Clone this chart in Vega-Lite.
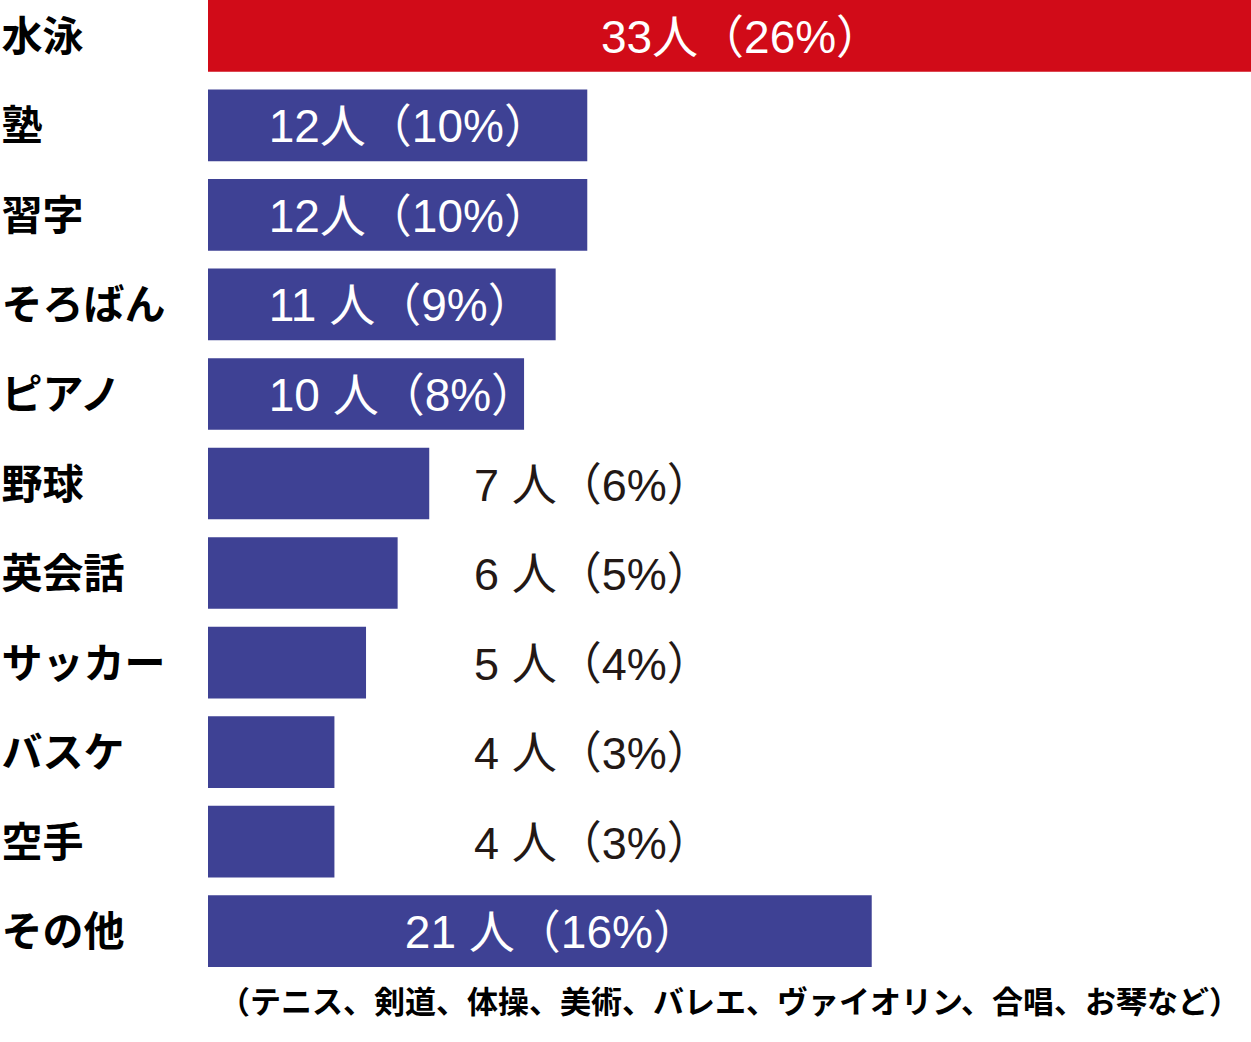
{
  "$schema": "https://vega.github.io/schema/vega-lite/v6.json",
  "autosize": {"type": "none"},
  "width": 1043,
  "height": 967,
  "padding": {"left": 208, "top": 0, "right": 0, "bottom": 75},
  "background": "white",
  "config": {"view": {"stroke": null}},
  "title": {
    "text": "（テニス、剣道、体操、美術、バレエ、ヴァイオリン、合唱、お琴など）",
    "orient": "bottom",
    "anchor": "middle",
    "offset": 22,
    "font": "Noto Sans CJK JP",
    "fontSize": 31,
    "fontWeight": "bold",
    "color": "#000000"
  },
  "data": {
    "values": [
      {"name": "水泳", "n": 33, "label": "33人（26%）"},
      {"name": "塾", "n": 12, "label": "12人（10%）"},
      {"name": "習字", "n": 12, "label": "12人（10%）"},
      {"name": "そろばん", "n": 11, "label": "11 人（9%）"},
      {"name": "ピアノ", "n": 10, "label": "10 人（8%）"},
      {"name": "野球", "n": 7, "label": "7 人（6%）"},
      {"name": "英会話", "n": 6, "label": "6 人（5%）"},
      {"name": "サッカー", "n": 5, "label": "5 人（4%）"},
      {"name": "バスケ", "n": 4, "label": "4 人（3%）"},
      {"name": "空手", "n": 4, "label": "4 人（3%）"},
      {"name": "その他", "n": 21, "label": "21 人（16%）"}
    ]
  },
  "encoding": {
    "y": {
      "field": "name",
      "type": "nominal",
      "sort": null,
      "scale": {"paddingInner": 0.2, "paddingOuter": 0},
      "axis": {
        "title": null,
        "ticks": false,
        "tickSize": 0,
        "domain": false,
        "labelAlign": "left",
        "labelPadding": 207,
        "labelOffset": 3,
        "labelFont": "Noto Sans CJK JP",
        "labelFontSize": 41,
        "labelFontWeight": "bold",
        "labelColor": "#000000",
        "labelLimit": 400,
        "labelBaseline": "middle"
      }
    }
  },
  "layer": [
    {
      "mark": {"type": "bar"},
      "encoding": {
        "x": {"field": "n", "type": "quantitative", "scale": {"domain": [0, 33], "nice": false, "zero": true}, "axis": null},
        "color": {
          "condition": {"test": "datum.name === '水泳'", "value": "#D10B18"},
          "value": "#3E4194"
        }
      }
    },
    {
      "transform": [{"filter": "datum.n >= 20"}, {"calculate": "datum.n / 2", "as": "mid"}],
      "mark": {"type": "text", "align": "center", "baseline": "alphabetic", "dy": 17, "dx": 12, "font": "Liberation Sans, Noto Sans CJK JP", "fontSize": 46, "fontWeight": 400, "color": "#FFFFFF"},
      "encoding": {
        "x": {"field": "mid", "type": "quantitative"},
        "text": {"field": "label"}
      }
    },
    {
      "transform": [{"filter": "datum.n >= 10 && datum.n < 20"}],
      "mark": {"type": "text", "align": "left", "baseline": "alphabetic", "dy": 17, "font": "Liberation Sans, Noto Sans CJK JP", "fontSize": 46, "fontWeight": 400, "color": "#FFFFFF"},
      "encoding": {
        "x": {"datum": 1.92, "type": "quantitative"},
        "text": {"field": "label"}
      }
    },
    {
      "transform": [{"filter": "datum.n < 10"}],
      "mark": {"type": "text", "align": "left", "baseline": "alphabetic", "dy": 17, "font": "Liberation Sans, Noto Sans CJK JP", "fontSize": 45, "fontWeight": 400, "color": "#231815"},
      "encoding": {
        "x": {"datum": 8.42, "type": "quantitative"},
        "text": {"field": "label"}
      }
    }
  ]
}
